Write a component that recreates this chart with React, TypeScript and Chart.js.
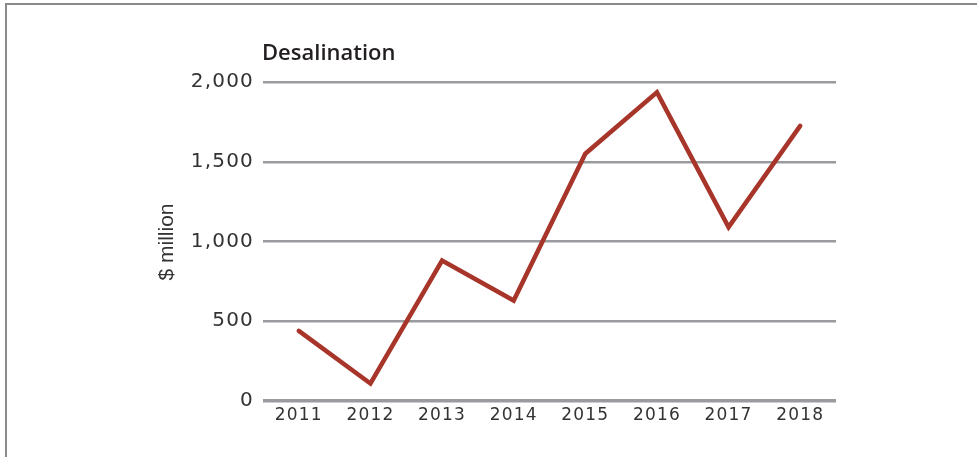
import React, { useEffect, useRef } from 'react';
import { Chart, registerables } from 'chart.js';

Chart.register(...registerables);

const years = ['2011', '2012', '2013', '2014', '2015', '2016', '2017', '2018'];
const desalination = [440, 110, 880, 630, 1550, 1935, 1090, 1725];
const yTickValues = [0, 500, 1000, 1500, 2000];
const chartTitle = 'Desalination';
const yAxisTitle = '$ million';

const textPlugin = {
  id: 'customText',
  beforeInit(chart: any) {
    chart.ctx.letterSpacing = '1.2px';
  },
  beforeUpdate(chart: any) {
    chart.ctx.letterSpacing = '1.2px';
  },
  afterDraw(chart: any) {
    const ctx = chart.ctx;
    const { left } = chart.chartArea;
    ctx.save();
    ctx.letterSpacing = '0px';
    ctx.fillStyle = '#231f20';
    ctx.font = '600 22px "Open Sans"';
    ctx.textAlign = 'left';
    ctx.textBaseline = 'alphabetic';
    ctx.fillText(chartTitle, left - 1, 60);

    ctx.fillStyle = '#333333';
    ctx.font = '21px "Liberation Sans"';
    ctx.translate(173, 242);
    ctx.rotate(-Math.PI / 2);
    ctx.textAlign = 'center';
    ctx.fillText(yAxisTitle, 0, 0);
    ctx.restore();
  },
};

export default function App() {
  const canvasRef = useRef<HTMLCanvasElement | null>(null);

  useEffect(() => {
    if (!canvasRef.current) return;
    const chart = new Chart(canvasRef.current, {
      type: 'line',
      data: {
        labels: years,
        datasets: [
          {
            label: chartTitle,
            data: desalination,
            borderColor: '#a7352a',
            borderWidth: 4.5,
            pointRadius: 0,
            tension: 0,
            fill: false,
            borderCapStyle: 'round',
            borderJoinStyle: 'miter',
          },
        ],
      },
      options: {
        animation: false,
        responsive: false,
        devicePixelRatio: 1,
        layout: { padding: { left: 0, right: 141, top: 82, bottom: 0 } },
        plugins: {
          legend: { display: false },
          tooltip: { enabled: false },
          title: { display: false },
        },
        scales: {
          x: {
            offset: true,
            grid: { display: false, drawTicks: false },
            border: { display: false },
            ticks: {
              color: '#333333',
              font: { family: '"DejaVu Sans"', size: 17 },
              padding: 4,
              maxRotation: 0,
              autoSkip: false,
            },
            afterFit: (s: any) => {
              s.height = 56;
            },
          },
          y: {
            min: 0,
            max: 2000,
            afterBuildTicks: (s: any) => {
              s.ticks = yTickValues.map((v) => ({ value: v }));
            },
            grid: {
              color: '#9a9b9e',
              lineWidth: (c: any) => (c.tick && c.tick.value === 0 ? 3.5 : 2.5),
              drawTicks: false,
            },
            border: { display: false },
            ticks: {
              color: '#333333',
              font: { family: '"DejaVu Sans"', size: 20 },
              padding: 9,
              callback: (v: any) => Number(v).toLocaleString('en-US'),
            },
            afterFit: (s: any) => {
              s.width = 263;
            },
          },
        },
      },
      plugins: [textPlugin],
    });
    return () => chart.destroy();
  }, []);

  return (
    <div style={{ position: 'absolute', left: 0, top: 0, width: 977, height: 457, background: '#ffffff', overflow: 'hidden' }}>
      <canvas ref={canvasRef} width={977} height={457} style={{ position: 'absolute', left: 0, top: 0 }} />
      <div
        style={{
          position: 'absolute',
          left: 5,
          top: 3,
          width: 990,
          height: 470,
          borderTop: '2px solid #8a8a8a',
          borderLeft: '2px solid #8a8a8a',
          pointerEvents: 'none',
        }}
      />
    </div>
  );
}
